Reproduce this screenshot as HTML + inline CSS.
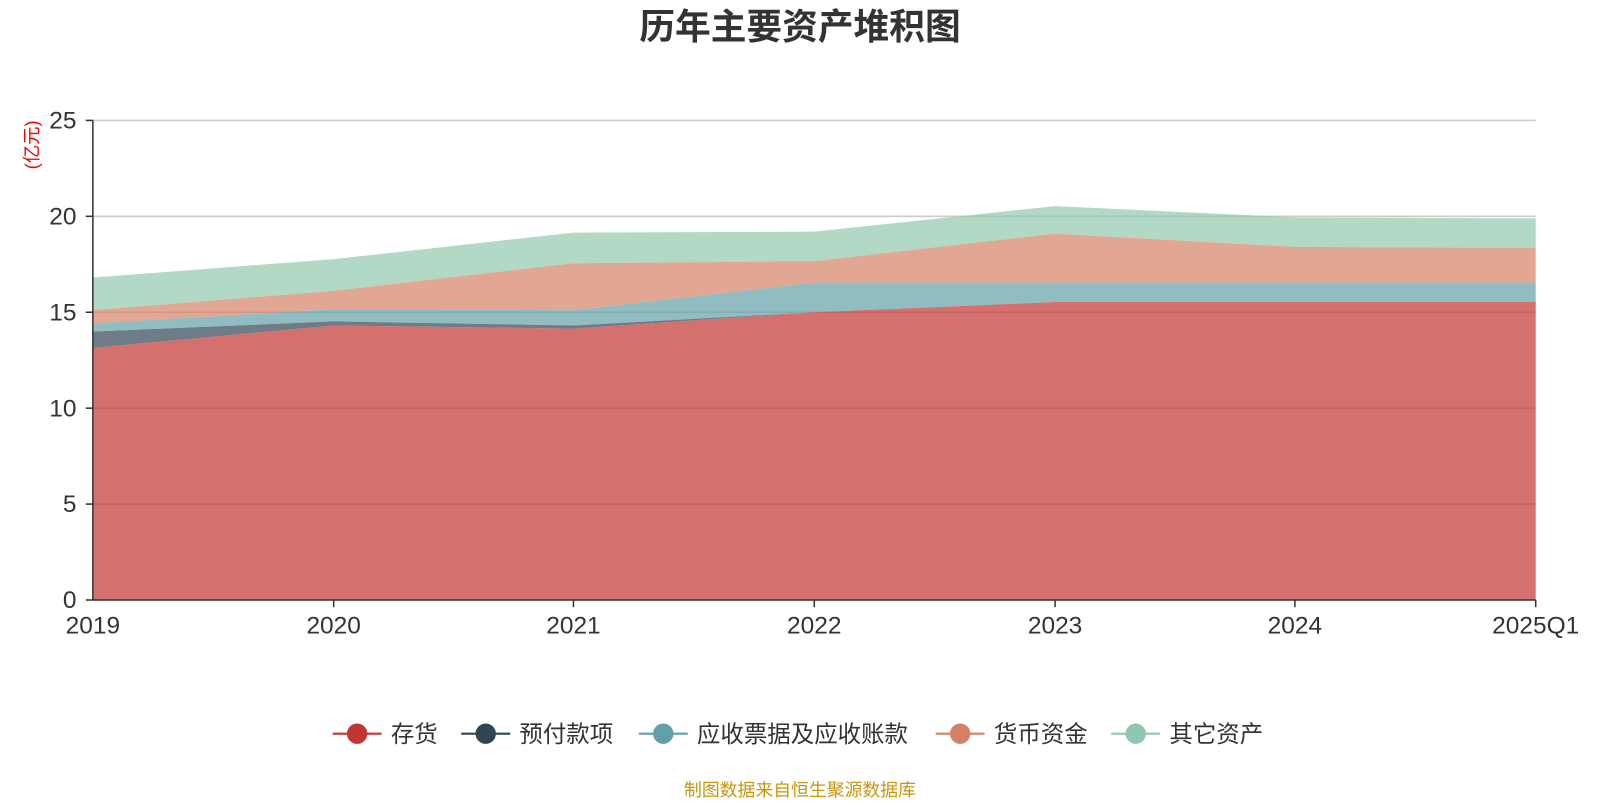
<!DOCTYPE html>
<html><head><meta charset="utf-8"><style>
body{margin:0;background:#fff;width:1600px;height:800px;overflow:hidden;font-family:"Liberation Sans","Noto Sans CJK SC",sans-serif}
</style></head><body>
<svg width="1600" height="800" xmlns="http://www.w3.org/2000/svg" font-family="'Liberation Sans','Noto Sans CJK SC',sans-serif">
<g transform="scale(1.0204)">
<text x="784" y="38" text-anchor="middle" font-size="35" font-weight="bold" fill="#333">历年主要资产堆积图</text>
<text transform="translate(37,142) rotate(-90)" text-anchor="middle" font-size="18" fill="#e00">(亿元)</text>
<g stroke="#ccc" stroke-width="1.5">
<line x1="91" y1="118" x2="1505" y2="118"/><line x1="91" y1="212" x2="1505" y2="212"/><line x1="91" y1="306" x2="1505" y2="306"/><line x1="91" y1="400" x2="1505" y2="400"/><line x1="91" y1="494" x2="1505" y2="494"/>
</g>
<g fill-opacity="0.7">
<polygon fill="#91c7ae" points="91,272 327,254 562,228 798,227 1034,202 1269,213 1505,214 1505,243 1269,242 1034,229 798,256 562,258 327,285 91,304"/>
<polygon fill="#d48265" points="91,304 327,285 562,258 798,256 1034,229 1269,242 1505,243 1505,277 1269,277 1034,277 798,277 562,304 327,303 91,317"/>
<polygon fill="#61a0a8" points="91,317 327,303 562,304 798,277 1034,277 1269,277 1505,277 1505,296 1269,296 1034,296 798,306 562,319 327,315 91,325"/>
<polygon fill="#2f4554" points="91,325 327,315 562,319 798,306 1034,296 1269,296 1505,296 1505,296 1269,296 1034,296 798,306 562,322 327,319 91,341"/>
<polygon fill="#c23531" points="91,341 327,319 562,322 798,306 1034,296 1269,296 1505,296 1505,588 91,588"/>
</g>
<g stroke="#333" stroke-width="1.5">
<line x1="91" y1="118" x2="91" y2="588"/><line x1="91" y1="588" x2="1505" y2="588"/>
<line x1="84" y1="118" x2="91" y2="118"/><line x1="84" y1="212" x2="91" y2="212"/><line x1="84" y1="306" x2="91" y2="306"/><line x1="84" y1="400" x2="91" y2="400"/><line x1="84" y1="494" x2="91" y2="494"/><line x1="84" y1="588" x2="91" y2="588"/>
<line x1="327" y1="588" x2="327" y2="595"/><line x1="562" y1="588" x2="562" y2="595"/><line x1="798" y1="588" x2="798" y2="595"/><line x1="1034" y1="588" x2="1034" y2="595"/><line x1="1269" y1="588" x2="1269" y2="595"/><line x1="1505" y1="588" x2="1505" y2="595"/>
</g>
<g font-size="24" fill="#333" text-anchor="end">
<text x="75" y="126">25</text><text x="75" y="220">20</text><text x="75" y="314">15</text><text x="75" y="408">10</text><text x="75" y="502">5</text><text x="75" y="596">0</text>
</g>
<g font-size="24" fill="#333" text-anchor="middle">
<text x="91" y="621">2019</text><text x="327" y="621">2020</text><text x="562" y="621">2021</text><text x="798" y="621">2022</text><text x="1034" y="621">2023</text><text x="1269" y="621">2024</text><text x="1505" y="621">2025Q1</text>
</g>
<g font-size="23" fill="#333">
<line x1="326" y1="719" x2="374" y2="719" stroke="#c23531" stroke-width="2"/><circle cx="350" cy="719" r="10" fill="#c23531"/><text x="383" y="727">存货</text>
<line x1="452" y1="719" x2="500" y2="719" stroke="#2f4554" stroke-width="2"/><circle cx="476" cy="719" r="10" fill="#2f4554"/><text x="509" y="727">预付款项</text>
<line x1="626" y1="719" x2="674" y2="719" stroke="#61a0a8" stroke-width="2"/><circle cx="650" cy="719" r="10" fill="#61a0a8"/><text x="683" y="727">应收票据及应收账款</text>
<line x1="917" y1="719" x2="965" y2="719" stroke="#d48265" stroke-width="2"/><circle cx="941" cy="719" r="10" fill="#d48265"/><text x="974" y="727">货币资金</text>
<line x1="1089" y1="719" x2="1137" y2="719" stroke="#91c7ae" stroke-width="2"/><circle cx="1113" cy="719" r="10" fill="#91c7ae"/><text x="1146" y="727">其它资产</text>
</g>
<text x="784" y="780" text-anchor="middle" font-size="17.5" fill="#c8960a">制图数据来自恒生聚源数据库</text>
</g>
</svg>
</body></html>
